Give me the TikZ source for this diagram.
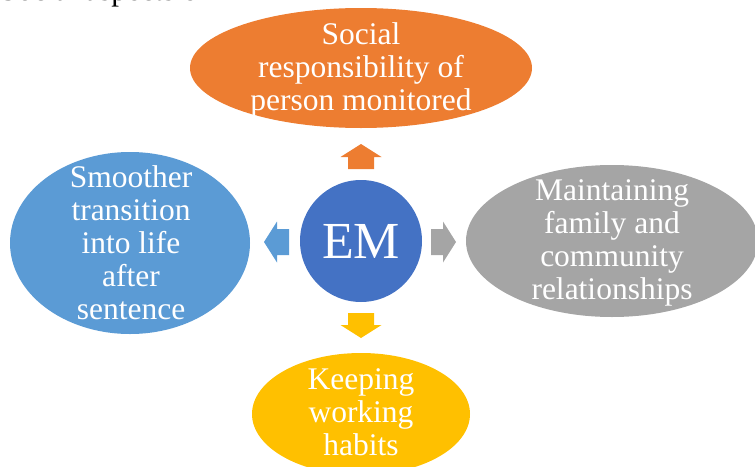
\documentclass[tikz,border=0pt]{standalone}
\usepackage{fontspec}
\setmainfont{Liberation Serif}
\usetikzlibrary{shapes.geometric}
\definecolor{emBlue}{RGB}{68,114,196}
\definecolor{emOrange}{RGB}{237,125,49}
\definecolor{emSky}{RGB}{91,155,213}
\definecolor{emGrey}{RGB}{165,165,165}
\definecolor{emGold}{RGB}{255,192,0}
\begin{document}
\begin{tikzpicture}[
  x=1pt, y=-1pt,
  bub/.style={ellipse, inner sep=0pt, outer sep=0pt},
  txt/.style={align=center, text=white, inner sep=0pt, font=\fontsize{31.5}{33}\selectfont},
  blockarrow/.pic={\fill (0,-13) -- (12,-13) -- (12,-20.5) -- (25,0) -- (12,20.5) -- (12,13) -- (0,13) -- cycle;},
]
\useasboundingbox (0,0) rectangle (755,466);
\clip (0,0) rectangle (755,466);
% heading line above the figure
\node[anchor=base west, inner sep=0pt, font=\fontsize{31}{33}\selectfont] (head) at (0,0.5) {Social aspects of};
% outer bubbles
\node[bub, fill=emOrange, minimum width=342pt, minimum height=120pt] (resp) at (361,68) {};
\node[txt] (resp-t) at (361,70) {Social\\responsibility of\\person monitored};
\node[bub, fill=emSky, minimum width=240pt, minimum height=182pt] (trans) at (130,243) {};
\node[txt] (trans-t) at (131,243) {Smoother\\transition\\into life\\after\\sentence};
\node[bub, fill=emGrey, minimum width=292pt, minimum height=152pt] (fam) at (612,241) {};
\node[txt] (fam-t) at (612,243) {Maintaining\\family and\\community\\relationships};
\node[bub, fill=emGold, minimum width=218pt, minimum height=122pt] (work) at (361,414) {};
\node[txt] (work-t) at (361,412) {Keeping\\working\\habits};
% centre
\node[circle, fill=emBlue, minimum size=122pt, inner sep=0pt, text=white, font=\fontsize{52}{60}\selectfont] (em) at (361,241) {EM};
% block arrows
\pic[fill=emOrange, rotate=90] at (361,169) {blockarrow};
\pic[fill=emGold, rotate=-90] at (361,313) {blockarrow};
\pic[fill=emSky, rotate=180] at (289,242) {blockarrow};
\pic[fill=emGrey] at (431,242) {blockarrow};
\end{tikzpicture}
\end{document}
